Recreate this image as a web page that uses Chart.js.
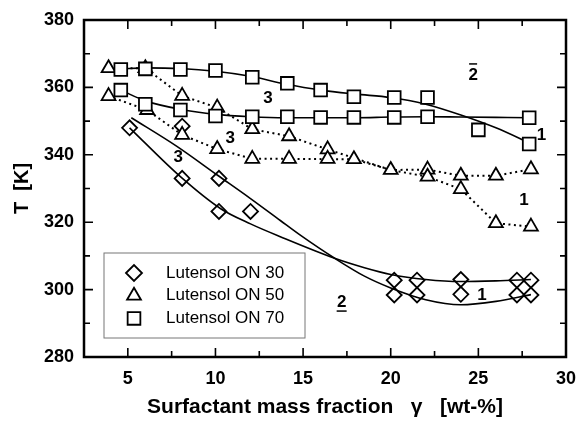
<!DOCTYPE html>
<html>
<head>
<meta charset="utf-8">
<script src="https://cdn.jsdelivr.net/npm/chart.js@4.4.1/dist/chart.umd.min.js"></script>
<style>
    html, body { margin: 0; padding: 0; background: #fff; }
    #wrap { width: 578px; height: 427px; }
</style>
</head>
<body>
<div id="wrap"><canvas id="phaseChart" width="578" height="427"></canvas></div>
<script>
// measured points [gamma wt-%, T K]
const on30Points = [[5.1, 348], [8.1, 348.5], [8.1, 333], [10.2, 333], [10.2, 323.2], [12, 323.2],
    [20.2, 302.8], [20.2, 298.4], [21.5, 302.8], [21.5, 298.4], [24, 303], [24, 298.6],
    [27.2, 302.8], [27.2, 298.4], [28, 302.8], [28, 298.4]];
const on50Points = [[3.9, 365.7], [3.9, 357.4], [6, 365.7], [6.1, 353.3], [8.1, 357.5], [8.1, 345.9],
    [10.1, 354], [10.1, 341.7], [12.1, 347.6], [12.1, 338.8], [14.2, 345.5], [14.2, 338.8],
    [16.4, 341.6], [16.4, 338.8], [17.9, 338.7], [20, 335.5], [22.1, 335.6], [22.1, 333.5],
    [24, 333.8], [24, 329.8], [26, 333.8], [26, 319.7], [28, 335.7], [28, 318.7]];
const on70Points = [[4.6, 365.3], [6, 365.5], [8, 365.3], [10, 365], [12.1, 363], [14.1, 361.2],
    [16, 359.2], [17.9, 357.2], [20.2, 357], [22.1, 357], [25, 347.4], [27.9, 343.2],
    [4.6, 359.2], [6, 355], [8, 353.3], [10, 351.5], [12.1, 351.3], [14.1, 351.3],
    [16, 351.1], [17.9, 351.1], [20.2, 351.1], [22.1, 351.3], [27.9, 351]];

// dotted branches through the ON 50 points
const on50Upper = [[3.9, 365.7], [6, 365.7], [8.1, 357.5], [10.1, 354], [12.1, 347.6], [14.2, 345.5],
    [16.4, 341.6], [20, 335.5], [22.1, 333.5], [24, 329.8], [26, 319.7], [28, 318.7]];
const on50Lower = [[3.9, 357.4], [6.1, 353.3], [8.1, 345.9], [10.1, 341.7], [12.1, 338.8], [14.2, 338.8],
    [16.4, 338.7], [17.9, 338.7], [20, 335.5], [22.1, 335.6], [24, 333.8], [26, 333.8], [28, 335.7]];

// solid boundary curves
const on70UpperCurve = [[4.6, 365.5], [6, 365.8], [8, 365.6], [10, 364.8], [12, 363.3], [14, 361],
    [16, 359.2], [18, 358], [20, 357], [22, 355], [24, 351.8], [26, 348], [28, 343.3]];
const on70LowerCurve = [[4.6, 359.2], [6, 356], [8, 353.5], [10, 352], [12, 351.3], [14, 351],
    [16, 351], [18, 351], [20, 351.2], [22, 351.3], [24, 351.2], [26, 351.1], [28, 351]];
const on30CurveA = [[5.2, 351], [7.8, 342.5], [10.1, 334], [12, 327], [13.7, 320.5], [14.8, 316.3],
    [16.8, 309.3], [18.5, 304], [20, 300.5], [22, 297], [24, 295.5], [26, 296.5], [28, 298.5]];
const on30CurveB = [[5.1, 348], [8, 333.5], [10.3, 324], [12, 319.5], [13.7, 315.7], [16.8, 309.3],
    [18.5, 306.5], [20, 304.5], [22, 303], [24, 302.4], [26, 302.6], [28, 303]];

const legendLabels = ['Lutensol ON 30', 'Lutensol ON 50', 'Lutensol ON 70'];
const xTitle = 'Surfactant mass fraction   \u03b3   [wt-%]';
const yTitle = 'T  [K]';

// phase labels: text, gamma, T, mark (bar over / under)
const phaseLabels = [
    ['3', 13.0, 356.9, ''], ['3', 10.84, 345, ''], ['3', 7.87, 339.3, ''],
    ['2', 24.7, 363.7, 'over'], ['1', 28.6, 345.9, ''], ['1', 27.6, 326.6, ''],
    ['1', 25.2, 298.4, ''], ['2', 17.2, 296.3, 'under']
];

const toXY = arr => arr.map(p => ({x: p[0], y: p[1]}));
const FONT = '"Liberation Sans", Arial, Helvetica, sans-serif';

function curve(data, dotted) {
    return {
        data: toXY(data),
        showLine: true,
        borderColor: '#000',
        borderWidth: dotted ? 2 : 1.6,
        borderDash: dotted ? [2, 3.5] : [],
        pointRadius: 0,
        tension: dotted ? 0 : 0.4,
        cubicInterpolationMode: dotted ? 'default' : 'monotone',
        fill: false,
        order: 10
    };
}

function markers(data, style, radius, fill, order) {
    return {
        data: toXY(data),
        showLine: false,
        pointStyle: style,
        pointRadius: radius,
        pointBorderWidth: 1.8,
        pointBorderColor: '#000',
        pointBackgroundColor: fill,
        order: order
    };
}

// inward ticks on all four sides plus the frame
const framePlugin = {
    id: 'frame',
    afterDraw: function (chart) {
        let ctx = chart.ctx, a = chart.chartArea;
        let xs = chart.scales.x, ys = chart.scales.y;
        ctx.save();
        ctx.strokeStyle = '#000';
        ctx.lineWidth = 1.6;
        ctx.beginPath();
        xs.ticks.forEach(function (t) {
            let px = xs.getPixelForValue(t.value);
            let len = t.value % 5 === 0 ? 9 : 6;
            ctx.moveTo(px, a.bottom); ctx.lineTo(px, a.bottom - len);
            ctx.moveTo(px, a.top); ctx.lineTo(px, a.top + len);
        });
        ys.ticks.forEach(function (t) {
            let py = ys.getPixelForValue(t.value);
            let len = t.value % 20 === 0 ? 9 : 6;
            ctx.moveTo(a.left, py); ctx.lineTo(a.left + len, py);
            ctx.moveTo(a.right, py); ctx.lineTo(a.right - len, py);
        });
        ctx.stroke();
        ctx.lineWidth = 2.5;
        ctx.strokeRect(a.left, a.top, a.right - a.left, a.bottom - a.top);

        // phase labels
        ctx.fillStyle = '#000';
        ctx.font = 'bold 17px ' + FONT;
        ctx.textAlign = 'center';
        ctx.textBaseline = 'middle';
        ctx.lineWidth = 1.5;
        phaseLabels.forEach(function (l) {
            let px = xs.getPixelForValue(l[1]), py = ys.getPixelForValue(l[2]);
            ctx.fillText(l[0], px, py);
            if (l[3] === 'over') {
                ctx.beginPath(); ctx.moveTo(px - 4, py - 11); ctx.lineTo(px + 4, py - 11); ctx.stroke();
            } else if (l[3] === 'under') {
                ctx.beginPath(); ctx.moveTo(px - 5, py + 9); ctx.lineTo(px + 5, py + 9); ctx.stroke();
            }
        });

        // legend box, lower left
        let bx = a.left + 20, by = a.top + 233, bw = 201, bh = 85;
        ctx.fillStyle = '#fff';
        ctx.fillRect(bx, by, bw, bh);
        ctx.strokeStyle = '#777';
        ctx.lineWidth = 1;
        ctx.strokeRect(bx, by, bw, bh);
        let styles = ['rectRot', 'triangle', 'rect'];
        let radii = [8, 8, 9];
        ctx.font = '17px ' + FONT;
        ctx.textAlign = 'left';
        legendLabels.forEach(function (txt, i) {
            let ry = by + 20 + i * 22.7;
            ctx.strokeStyle = '#000';
            ctx.lineWidth = 1.8;
            ctx.fillStyle = '#fff';
            Chart.helpers.drawPoint(ctx, {pointStyle: styles[i], radius: radii[i], borderWidth: 1.8}, bx + 30, ry);
            ctx.fillStyle = '#000';
            ctx.fillText(txt, bx + 62, ry);
        });
        ctx.restore();
    }
};

Chart.defaults.font.family = FONT;
Chart.defaults.color = '#000';

let phaseChart = new Chart(document.getElementById('phaseChart'), {
    type: 'scatter',
    data: {
        datasets: [
            curve(on70UpperCurve, false),
            curve(on70LowerCurve, false),
            curve(on30CurveA, false),
            curve(on30CurveB, false),
            curve(on50Upper, true),
            curve(on50Lower, true),
            markers(on30Points, 'rectRot', 7.5, 'rgba(255,255,255,0)', 3),
            markers(on50Points, 'triangle', 8, '#fff', 2),
            markers(on70Points, 'rect', 9, '#fff', 1)
        ]
    },
    options: {
        responsive: false,
        animation: false,
        layout: {padding: {top: 20, right: 12, left: 0, bottom: 0}},
        plugins: {legend: {display: false}, tooltip: {enabled: false}},
        scales: {
            x: {
                type: 'linear', min: 2.5, max: 30,
                grid: {display: false, drawTicks: false},
                border: {display: false},
                ticks: {
                    stepSize: 2.5, autoSkip: false, maxRotation: 0, padding: 11,
                    font: {size: 18, weight: 'bold'},
                    callback: function (v) { return v % 5 === 0 ? v : ''; }
                },
                title: {display: true, text: xTitle, font: {size: 21, weight: 'bold'}, padding: {top: 0, bottom: 7}},
                afterFit: function (s) { s.height = 70; s.paddingLeft = 0; s.paddingRight = 0; }
            },
            y: {
                min: 280, max: 380,
                grid: {display: false, drawTicks: false},
                border: {display: false},
                ticks: {
                    stepSize: 10, autoSkip: false, padding: 10,
                    font: {size: 18, weight: 'bold'},
                    callback: function (v) { return v % 20 === 0 ? v : ''; }
                },
                title: {display: true, text: yTitle, font: {size: 20, weight: 'bold'}, padding: {top: 10, bottom: 0}},
                afterFit: function (s) { s.width = 84; s.paddingTop = 0; s.paddingBottom = 0; }
            }
        }
    },
    plugins: [framePlugin]
});
</script>
</body>
</html>
